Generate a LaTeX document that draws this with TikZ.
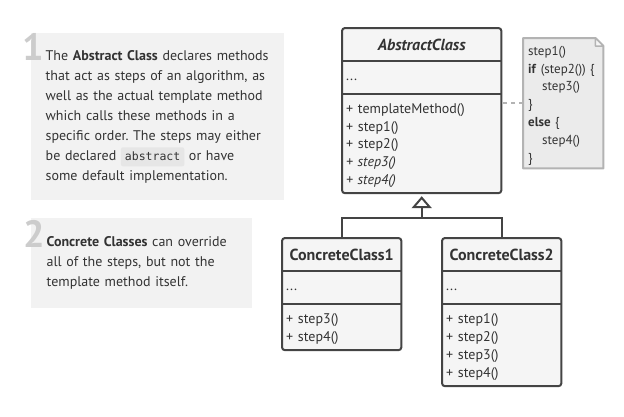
\documentclass[tikz,border=0pt]{standalone}
\usepackage{fontspec}
\setmainfont{PT Sans}
\setmonofont{DejaVu Sans Mono}
\usetikzlibrary{positioning,arrows.meta,backgrounds}

\definecolor{ink}{HTML}{333333}
\definecolor{boxline}{HTML}{444444}
\definecolor{boxbg}{HTML}{F5F5F5}
\definecolor{panelbg}{HTML}{F2F2F2}
\definecolor{notebg}{HTML}{EBEBEB}
\definecolor{noteline}{HTML}{B3B3B3}
\definecolor{numgrey}{HTML}{CCCCCC}
\definecolor{codebg}{HTML}{E6E6E6}

\newcommand{\codeword}[1]{\tikz[baseline=(cw.base)]\node[fill=codebg, rounded corners=2pt, minimum width=0pt, minimum height=0pt, text width=, align=center, inner xsep=4pt, inner ysep=4pt, text height=9pt, text depth=2pt] (cw) {\fontsize{11.5}{14}\selectfont\ttfamily\color{ink}#1};}

\frenchspacing

\begin{document}
\begin{tikzpicture}[x=1pt, y=-1pt, text=ink,
    panel/.style = {fill=panelbg, anchor=north west, inner ysep=0pt, inner xsep=15.5pt, align=left, font=\fontsize{14}{20}\selectfont},
    num/.style = {text=numgrey, anchor=north west, inner sep=0pt, font=\fontsize{38}{38}\selectfont\bfseries},
    head/.style = {fill=boxbg, minimum height=33pt, inner sep=0pt, font=\fontsize{16}{19}\selectfont\bfseries},
    attr/.style = {fill=boxbg, minimum height=32pt, inner xsep=4pt, inner ysep=0pt, align=left, text height=9pt, text depth=3pt, font=\fontsize{14}{17.7}\selectfont},
    meth/.style = {fill=boxbg, inner xsep=4pt, inner ysep=0pt, align=left, font=\fontsize{14}{17.7}\selectfont, execute at begin node=\rule{0pt}{14pt}},
    frame/.style = {draw=boxline, line width=2pt, rounded corners=3pt},
    divider/.style = {draw=boxline, line width=2pt},
    conn/.style = {draw=boxline, line width=2pt},
    dashline/.style = {draw=noteline, line width=2pt, dash pattern=on 4pt off 4pt},
    notebox/.style = {anchor=north west, minimum width=80pt, minimum height=130pt, text width=70pt, inner xsep=5pt, inner ysep=0pt, align=left, font=\fontsize{13}{17.8}\selectfont, execute at begin node=\rule{0pt}{14pt}}]

    \useasboundingbox (0,0) rectangle (624,416);

    % explanation panels
    \node[panel, inner xsep=14.5pt, text width=224pt, minimum height=167pt] (p1) at (31,33) {The \textbf{Abstract Class} declares methods\\
        that act as steps of an algorithm, as\\
        well as the actual template method\\
        which calls these methods in a\\
        specific order. The steps may either\\
        be declared \codeword{abstract} or have\\
        some default implementation.};
    \node[num] (n1) at (22,33) {1};

    \node[panel, text width=190pt, minimum height=90pt] (p2) at (31,218) {\textbf{Concrete Classes} can override\\
        all of the steps, but not the\\
        template method itself.};
    \node[num] (n2) at (23,220) {2};

    % abstract class
    \node[head, minimum width=159pt, anchor=north west, font=\fontsize{16}{19}\selectfont\bfseries\itshape] (absH) at (342,28) {AbstractClass};
    \node[attr, text width=151pt, below=0pt of absH] (absA) {...};
    \node[meth, text width=151pt, minimum height=99pt, below=0pt of absA] (absM) {+ templateMethod()\\
        + step1()\\
        + step2()\\
        \textit{+ step3()}\\
        \textit{+ step4()}};
    \draw[frame] (absH.north west) rectangle (absM.south east);
    \draw[divider] (absA.north west) -- (absA.north east);
    \draw[divider] (absM.north west) -- (absM.north east);

    % concrete classes
    \node[head, minimum width=119pt, anchor=north west] (cc1H) at (282,238) {ConcreteClass1};
    \node[attr, text width=111pt, below=0pt of cc1H] (cc1A) {...};
    \node[meth, text width=111pt, minimum height=46pt, below=0pt of cc1A] (cc1M) {+ step3()\\
        + step4()};
    \draw[frame] (cc1H.north west) rectangle (cc1M.south east);
    \draw[divider] (cc1A.north west) -- (cc1A.north east);
    \draw[divider] (cc1M.north west) -- (cc1M.north east);

    \node[head, minimum width=119pt, anchor=north west] (cc2H) at (442,238) {ConcreteClass2};
    \node[attr, text width=111pt, below=0pt of cc2H] (cc2A) {...};
    \node[meth, text width=111pt, minimum height=82pt, below=0pt of cc2A] (cc2M) {+ step1()\\
        + step2()\\
        + step3()\\
        + step4()};
    \draw[frame] (cc2H.north west) rectangle (cc2M.south east);
    \draw[divider] (cc2A.north west) -- (cc2A.north east);
    \draw[divider] (cc2M.north west) -- (cc2M.north east);

    % inheritance
    \draw[conn] (cc1H.north) -- ++(0,-20) coordinate (j1) -| (cc2H.north);
    \coordinate (j) at (j1 -| absM.south);
    \draw[conn, -{Triangle[open, width=20pt, length=12pt]}, shorten >=3pt] (j) -- (absM.south);

    % note
    \node[notebox] (note) at (523,38) {step1()\\
        \textbf{if} (step2()) \{\\
        \hspace*{14pt}step3()\\
        \}\\
        \textbf{else} \{\\
        \hspace*{14pt}step4()\\
        \}};
    \begin{scope}[on background layer]
        \draw[fill=notebg, draw=noteline, line width=2pt, line join=round] (note.north west) -- ([xshift=-8pt]note.north east) -- ([yshift=-8pt]note.north east) -- (note.south east) -- (note.south west) -- cycle;
    \end{scope}
    \draw[fill=boxbg, draw=noteline, line width=1.5pt, line join=round] ([xshift=-8pt]note.north east) |- ([yshift=-8pt]note.north east) -- cycle;
    \draw[dashline] (note.west) -- (note.west -| absM.east);

  \end{tikzpicture}
\end{document}
